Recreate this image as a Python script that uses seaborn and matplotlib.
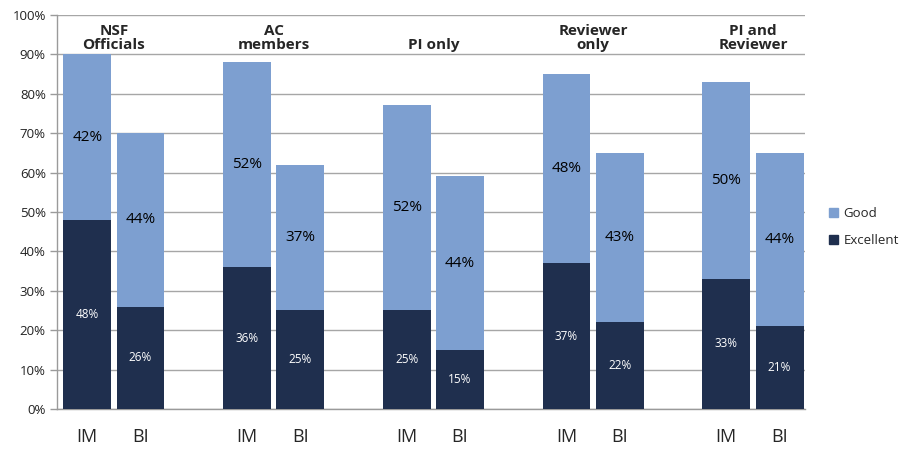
import matplotlib
matplotlib.use("Agg")
import matplotlib.pyplot as plt
import seaborn as sns
import pandas as pd
from matplotlib.patches import Patch

# data
groups = ["NSF\nOfficials", "AC\nmembers", "PI only", "Reviewer\nonly", "PI and\nReviewer"]
criteria = ["IM", "BI"]
excellent_im = [48, 36, 25, 37, 33]
excellent_bi = [26, 25, 15, 22, 21]
good_im = [42, 52, 52, 48, 50]
good_bi = [44, 37, 44, 43, 44]

GOOD = "#7d9fd0"
EXC = "#1f2f4e"

rows = []
for g in range(len(groups)):
    for k, (exc, good) in enumerate([(excellent_im[g], good_im[g]), (excellent_bi[g], good_bi[g])]):
        rows.append({"group": g, "crit": criteria[k], "pos": g * 3 + k,
                     "excellent": exc, "good": good, "total": exc + good})
df = pd.DataFrame(rows)

sns.set_style("white")
plt.rcParams["font.family"] = ["Open Sans", "DejaVu Sans"]

fig = plt.figure(figsize=(9.03, 4.49), dpi=100)
ax = fig.add_axes([0.063, 0.089, 0.828, 0.878])

# stacked: totals (good on top) then excellent over them
sns.barplot(data=df, x="pos", y="total", native_scale=True, width=0.9,
            color=GOOD, saturation=1, linewidth=0, ax=ax, zorder=2)
sns.barplot(data=df, x="pos", y="excellent", native_scale=True, width=0.9,
            color=EXC, saturation=1, linewidth=0, ax=ax, zorder=3)

for _, r in df.iterrows():
    ax.text(r["pos"], r["excellent"] / 2, f"{r['excellent']}%", ha="center", va="center",
            color="white", fontsize=8.5, zorder=4)
    ax.text(r["pos"], r["excellent"] + r["good"] / 2, f"{r['good']}%", ha="center", va="center",
            color="black", fontsize=11, zorder=4)

for g, name in enumerate(groups):
    ax.text(g * 3 + 0.5, 90.6, name, ha="center", va="bottom", fontsize=11,
            fontweight="bold", linespacing=1.0, zorder=4)

ax.set_xlim(-0.57, 13.47)
ax.set_ylim(0, 100)
ax.set_yticks(range(0, 101, 10))
ax.set_yticklabels([f"{v}%" for v in range(0, 101, 10)], fontsize=9.5, color="#222222")
ax.set_xticks(df["pos"])
ax.set_xticklabels(df["crit"], fontsize=13)
ax.tick_params(axis="x", length=0, pad=14)
ax.tick_params(axis="y", length=5, width=1, color="#9a9a9a", pad=3, left=True, direction="out")
ax.set_xlabel("")
ax.set_ylabel("")
ax.yaxis.grid(True, color="#a6a6a6", linewidth=1)
ax.set_axisbelow(True)
for s in ["top", "right"]:
    ax.spines[s].set_visible(False)
for s in ["left", "bottom"]:
    ax.spines[s].set_color("#9a9a9a")
    ax.spines[s].set_linewidth(1)

handles = [Patch(color=GOOD, label="Good"), Patch(color=EXC, label="Excellent")]
fig.legend(handles=handles, loc="center left", bbox_to_anchor=(0.905, 0.494), frameon=False,
           fontsize=9.5, handlelength=0.7, handleheight=0.7, handletextpad=0.4, labelspacing=1.1)

fig.savefig("out.png", dpi=100)
